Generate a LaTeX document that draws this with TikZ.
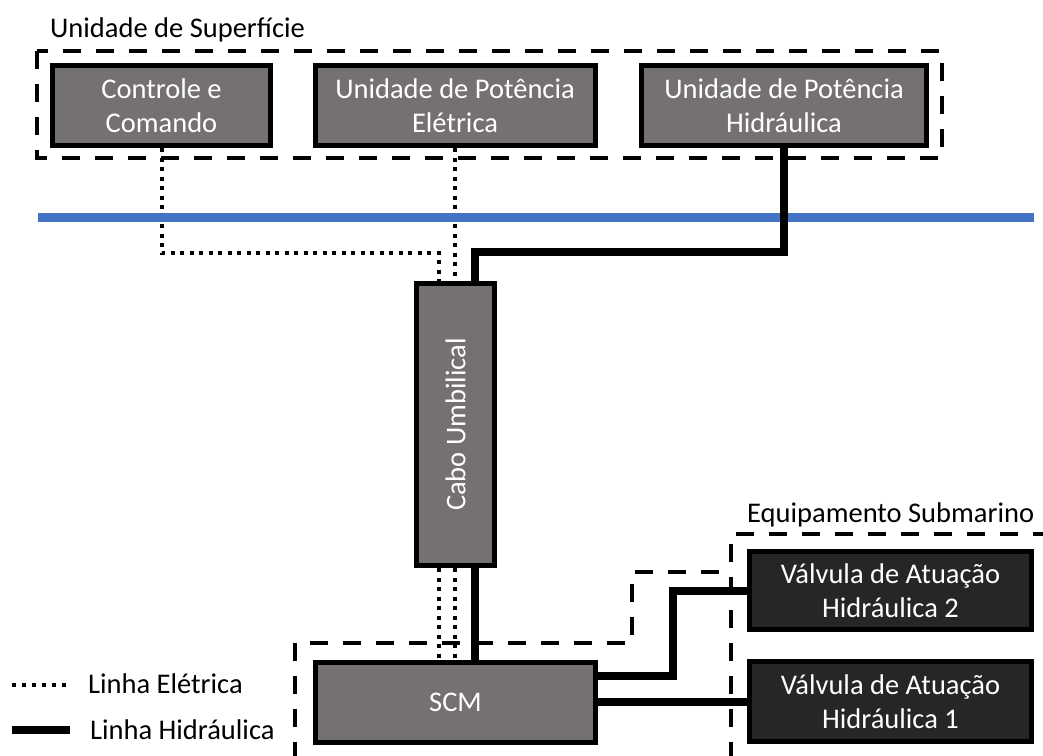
\documentclass[tikz,border=0pt]{standalone}
\usepackage{fontspec}
\setmainfont{Carlito}
\usepackage{graphicx}
\definecolor{boxgray}{HTML}{767171}
\definecolor{boxdark}{HTML}{262626}
\definecolor{seablue}{HTML}{4472C4}
\tikzset{
  unit/.style={draw=black, line width=5pt, fill=boxgray, text=white, inner sep=0pt,
    align=center, font=\fontsize{28.5}{33.5}\selectfont},
  valve/.style={unit, fill=boxdark},
  elec/.style={line width=4pt, dash pattern=on 4pt off 5.5pt},
  hyd/.style={line width=8pt},
  region/.style={line width=4pt, dash pattern=on 18pt off 15pt},
  lbl/.style={font=\fontsize{28.5}{33.5}\selectfont, inner sep=0pt, anchor=base west},
  sea/.style={line width=9pt, draw=seablue},
}
\begin{document}
\begin{tikzpicture}[x=1pt, y=-1pt]
\useasboundingbox (0,0) rectangle (1043,755);

% dashed regions
\draw[region] (37,51) rectangle (942,158);
\draw[region] (295,760) -- (295,643) -- (632,643) -- (632,572) -- (731,572);
\draw[region] (731,760) -- (731,534) -- (1043,534);

% labels
\node[lbl] (surf) at (50,37) {Unidade de Superfície};
\node[lbl] (equip) at (747,522) {Equipamento Submarino};

% boxes
\node[unit, minimum width=218pt, minimum height=80pt] (ctrl) at (161.5,105.5) {Controle e\\Comando};
\node[unit, minimum width=280pt, minimum height=80pt] (elet) at (455,105.5) {Unidade de Potência\\Elétrica};
\node[unit, minimum width=285pt, minimum height=80pt] (hidr) at (784,105.5) {Unidade de Potência\\Hidráulica};
\node[unit, minimum width=78pt, minimum height=282pt] (cabo) at (455.5,424.5) {\rotatebox{90}{Cabo Umbilical}};
\node[unit, minimum width=280pt, minimum height=80pt] (scm) at (455.5,702.5) {SCM};
\node[valve, minimum width=282pt, minimum height=78pt] (v2) at (890.5,590.5) {Válvula de Atuação\\Hidráulica 2};
\node[valve, minimum width=282pt, minimum height=80pt] (v1) at (890.5,701.5) {Válvula de Atuação\\Hidráulica 1};

% bend points
\coordinate (e1) at (439,253);
\coordinate (h1) at (475,252);
\coordinate (h2) at (673,676);

% electric lines
\draw[elec] (ctrl.south) -- (ctrl.south |- e1) -- (e1) -- (e1 |- cabo.north);
\draw[elec] (elet.south) -- (elet.south |- cabo.north);
\draw[elec] (e1 |- cabo.south) -- (e1 |- scm.north);
\draw[elec] (elet.south |- cabo.south) -- (elet.south |- scm.north);

% sea surface
\coordinate (s0) at (38,217.5);
\coordinate (s1) at (1034,217.5);
\draw[sea] (s0) -- (s1);

% hydraulic lines
\draw[hyd] (hidr.south) |- (h1) -- (h1 |- cabo.north);
\draw[hyd] (h1 |- cabo.south) -- (h1 |- scm.north);
\draw[hyd] (h2 -| scm.east) -- (h2) |- (v2.west);
\draw[hyd] (v1.west -| scm.east) -- (v1.west);

% legend
\node[lbl] (lelec) at (88,693) {Linha Elétrica};
\node[lbl] (lhyd) at (90,739) {Linha Hidráulica};
\coordinate (la0) at (12,685);
\coordinate (la1) at (70,685);
\coordinate (lb0) at (12,730);
\coordinate (lb1) at (70,730);
\draw[elec, dash pattern=on 4pt off 6pt] (la0) -- (la1);
\draw[hyd] (lb0) -- (lb1);
\end{tikzpicture}
\end{document}
